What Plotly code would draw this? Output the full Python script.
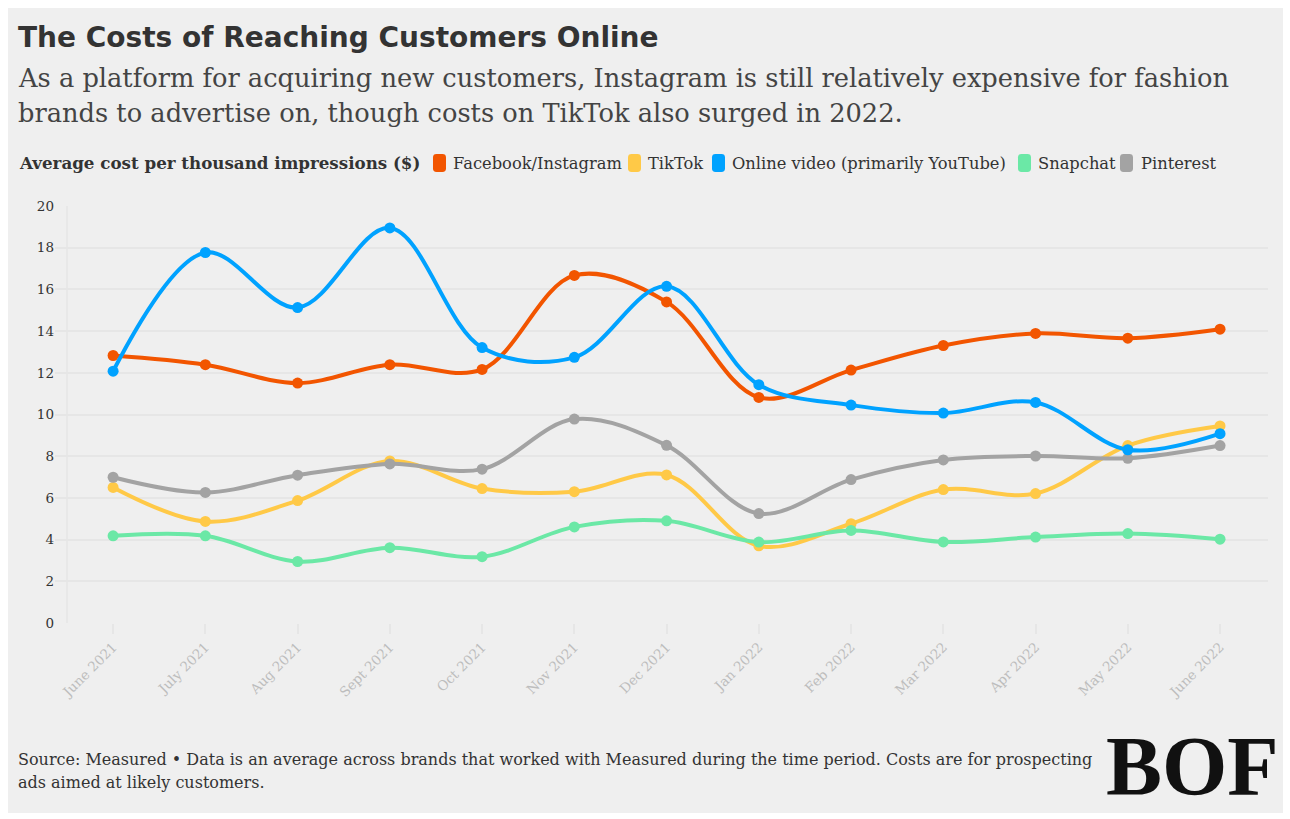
import plotly.graph_objects as go

months = ["June 2021", "July 2021", "Aug 2021", "Sept 2021", "Oct 2021", "Nov 2021",
          "Dec 2021", "Jan 2022", "Feb 2022", "Mar 2022", "Apr 2022", "May 2022", "June 2022"]

facebook = [12.83, 12.39, 11.51, 12.39, 12.16, 16.67, 15.40, 10.82, 12.13, 13.31, 13.89, 13.66, 14.09]
tiktok = [6.50, 4.87, 5.87, 7.77, 6.45, 6.30, 7.10, 3.70, 4.76, 6.40, 6.21, 8.51, 9.45]
online_video = [12.08, 17.77, 15.13, 18.95, 13.21, 12.74, 16.15, 11.43, 10.45, 10.07, 10.58, 8.31, 9.08]
snapchat = [4.18, 4.18, 2.95, 3.61, 3.18, 4.61, 4.90, 3.88, 4.44, 3.89, 4.12, 4.29, 4.02]
pinterest = [6.99, 6.26, 7.09, 7.63, 7.38, 9.78, 8.52, 5.25, 6.88, 7.82, 8.01, 7.90, 8.51]

series_names = ["Facebook/Instagram", "TikTok", "Online video (primarily YouTube)", "Snapchat", "Pinterest"]
series_values = [facebook, tiktok, online_video, snapchat, pinterest]
series_colors = ["#F25500", "#FFC947", "#00A2FF", "#6BE8A6", "#A3A3A3"]
draw_order = [1, 4, 0, 2, 3]

y_ticks = [0, 2, 4, 6, 8, 10, 12, 14, 16, 18, 20]

W, H = 1290, 819
L, R, T, B = 55, 22, 206, 196
PW, PH = W - L - R, H - T - B

def px(x):
    return (x - L) / PW

def py(y):
    return 1 - (y - T) / PH

SERIF = "DejaVu Serif"
BG = "#efefef"

fig = go.Figure()
for i in draw_order:
    fig.add_trace(go.Scatter(
        x=months, y=series_values[i], name=series_names[i],
        mode="lines+markers",
        line=dict(color=series_colors[i], width=4, shape="spline", smoothing=1),
        marker=dict(color=series_colors[i], size=11),
        hoverinfo="skip", showlegend=False,
    ))

shapes = []
# card background
shapes.append(dict(type="rect", xref="paper", yref="paper", layer="below",
                   x0=px(8), x1=px(1283), y0=py(813), y1=py(8),
                   fillcolor=BG, line=dict(width=0)))
# faint left axis line
shapes.append(dict(type="line", xref="x", yref="y", layer="below",
                   x0=-0.5, x1=-0.5, y0=0, y1=20,
                   line=dict(color="#e6e6e6", width=1.5)))

def rrect(x0, y0, x1, y1, r):
    def P(x, y):
        return f"{px(x):.6f},{py(y):.6f}"
    d = (f"M {P(x0 + r, y0)} L {P(x1 - r, y0)} Q {P(x1, y0)} {P(x1, y0 + r)} "
         f"L {P(x1, y1 - r)} Q {P(x1, y1)} {P(x1 - r, y1)} L {P(x0 + r, y1)} "
         f"Q {P(x0, y1)} {P(x0, y1 - r)} L {P(x0, y0 + r)} Q {P(x0, y0)} {P(x0 + r, y0)} Z")
    return d

annotations = []
# Title & subtitle
annotations.append(dict(text="<b>The Costs of Reaching Customers Online</b>", x=px(16), y=py(37),
                        xref="paper", yref="paper", xanchor="left", yanchor="middle", showarrow=False,
                        font=dict(family="DejaVu Sans", size=28, color="#333333")))
annotations.append(dict(text="As a platform for acquiring new customers, Instagram is still relatively expensive for fashion",
                        x=px(16), y=py(78), xref="paper", yref="paper", xanchor="left", yanchor="middle",
                        showarrow=False, font=dict(family=SERIF, size=25.7, color="#444444")))
annotations.append(dict(text="brands to advertise on, though costs on TikTok also surged in 2022.",
                        x=px(16), y=py(113), xref="paper", yref="paper", xanchor="left", yanchor="middle",
                        showarrow=False, font=dict(family=SERIF, size=25.7, color="#444444")))

# Legend
legend_y = 163
annotations.append(dict(text="<b>Average cost per thousand impressions ($)</b>", x=px(17), y=py(legend_y),
                        xref="paper", yref="paper", xanchor="left", yanchor="middle", showarrow=False,
                        font=dict(family=SERIF, size=16.7, color="#333333")))
swatch_x = [433, 628, 712, 1018, 1120]
text_x = [451, 646, 730, 1036, 1139]
for i in range(5):
    shapes.append(dict(type="path", xref="paper", yref="paper",
                       path=rrect(swatch_x[i], legend_y - 9, swatch_x[i] + 13, legend_y + 9, 3.5),
                       fillcolor=series_colors[i], line=dict(width=0)))
    annotations.append(dict(text=series_names[i], x=px(text_x[i]), y=py(legend_y),
                            xref="paper", yref="paper", xanchor="left", yanchor="middle", showarrow=False,
                            font=dict(family=SERIF, size=16.3, color="#333333")))

# Footer
annotations.append(dict(text="Source: Measured • Data is an average across brands that worked with Measured during the time period. Costs are for prospecting",
                        x=px(16), y=py(759), xref="paper", yref="paper", xanchor="left", yanchor="middle",
                        showarrow=False, font=dict(family=SERIF, size=16, color="#333333")))
annotations.append(dict(text="ads aimed at likely customers.",
                        x=px(16), y=py(782), xref="paper", yref="paper", xanchor="left", yanchor="middle",
                        showarrow=False, font=dict(family=SERIF, size=16, color="#333333")))
# Logo
annotations.append(dict(text="<b>BOF</b>", x=px(1192), y=py(766), xref="paper", yref="paper",
                        xanchor="center", yanchor="middle", showarrow=False,
                        font=dict(family="Liberation Serif", size=84, color="#111111")))

fig.update_layout(
    width=W, height=H,
    margin=dict(l=L, r=R, t=T, b=B, pad=0),
    paper_bgcolor="white", plot_bgcolor=BG,
    showlegend=False,
    shapes=shapes, annotations=annotations,
    xaxis=dict(type="category", range=[-0.63, 12.52], showgrid=False, zeroline=False,
               showline=False, ticks="outside", ticklen=10, tickwidth=1.5, tickcolor="#e6e6e6",
               tickangle=-45, tickfont=dict(family=SERIF, size=13.5, color="#bdbdbd"),
               fixedrange=True),
    yaxis=dict(range=[0, 20], tickvals=y_ticks, showgrid=True, gridcolor="#e6e6e6", gridwidth=1.5,
               zeroline=False, showline=False, ticks="",
               tickfont=dict(family=SERIF, size=13.5, color="#333333"), fixedrange=True),
)

fig.write_html("out.html")
